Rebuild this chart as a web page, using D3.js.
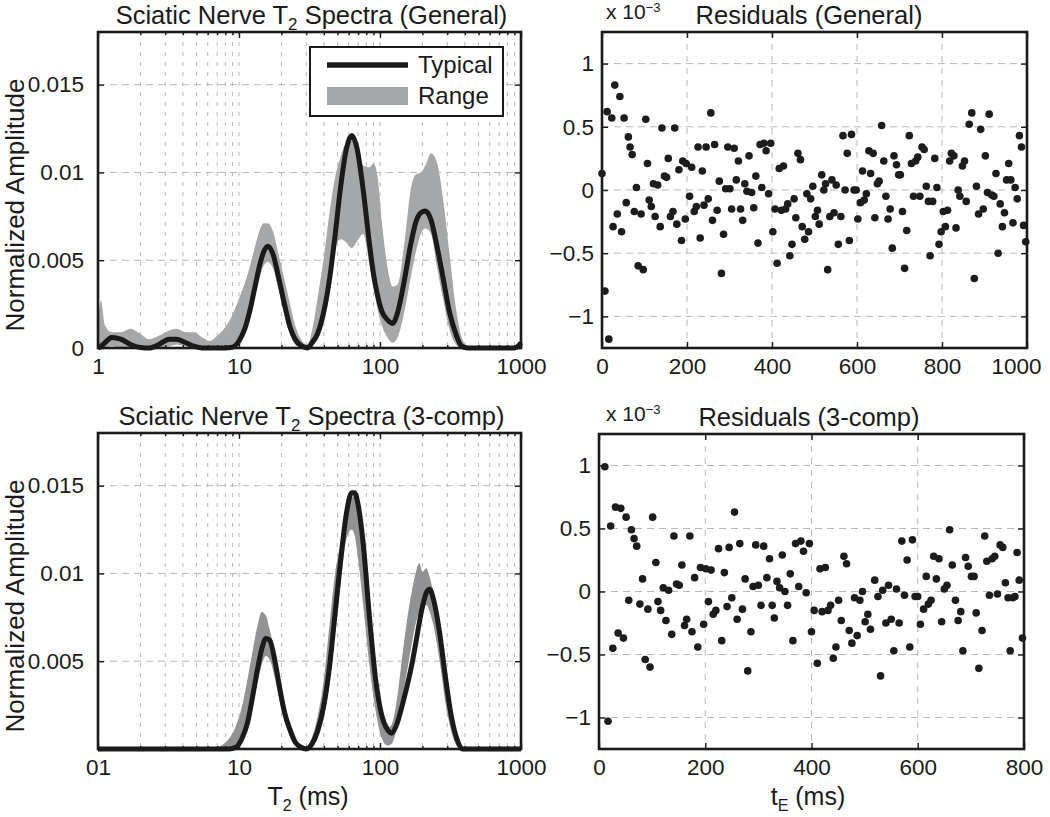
<!DOCTYPE html>
<html lang="en">
<head>
<meta charset="UTF-8">
<title>Sciatic Nerve T2 Spectra</title>
<script src="https://d3js.org/d3.v7.min.js"></script>
<style>
  body { margin: 0; background: #fff; }
  svg text { font-family: "Liberation Sans", Arial, Helvetica, sans-serif; fill: #1a1a1a; }
</style>
</head>
<body>
<svg id="fig" width="1050" height="817"></svg>
<script>
// ---- spectra, general fit (T2 in ms, normalized amplitude) ----
var t2Gen = [1, 1.05, 1.12, 1.25, 1.45, 1.7, 2.0, 2.3, 2.7, 3.2, 3.6, 4.2, 4.8, 5.5, 6.2, 7.0, 8.0, 9.0,
  10, 11, 12, 13, 14, 15, 16, 17.5, 19, 21, 23, 25, 28, 30.5, 33, 36, 40, 44, 48, 53, 58, 63, 69, 76, 84,
  90, 96, 103, 113, 123, 133, 150, 165, 180, 195, 210, 230, 255, 280, 310, 345, 380, 420, 900, 1000];
var typGen = [0, 0.0001, 0.0003, 0.0006, 0.0005, 0.0002, 0.00003, 0, 0.0002, 0.0005, 0.0005, 0.0003, 0.0001, 0, 0, 0, 0, 0.00005,
  0.0004, 0.0011, 0.0022, 0.0035, 0.0047, 0.0055, 0.0058, 0.0053, 0.0041, 0.0025, 0.0012, 0.0005, 0.0001, 0, 0.0003, 0.0008, 0.0021, 0.0040, 0.0064, 0.0094, 0.0114, 0.0121, 0.0113, 0.0090, 0.0060,
  0.0042, 0.0030, 0.0021, 0.0016, 0.0014, 0.0020, 0.0040, 0.0059, 0.0072, 0.0077, 0.0078, 0.0073, 0.0057, 0.0040, 0.0021, 0.0008, 0.0001, 0, 0, 0.0003];
var loGen = [0, 0, 0, 0.0001, 0, 0, 0, 0, 0, 0.0001, 0.0002, 0.0001, 0, 0, 0, 0, 0, 0,
  0.0003, 0.0009, 0.0019, 0.0030, 0.0040, 0.0047, 0.0049, 0.0045, 0.0034, 0.0019, 0.0008, 0.0002, 0, 0, 0.0001, 0.0005, 0.0015, 0.0032, 0.0058, 0.0062, 0.0060, 0.0057, 0.0061, 0.0065, 0.0048,
  0.0035, 0.0022, 0.0013, 0.0006, 0.0003, 0.0006, 0.0022, 0.0040, 0.0055, 0.0065, 0.0068, 0.0065, 0.0045, 0.0028, 0.0011, 0.0002, 0, 0, 0, 0.0001];
var hiGen = [0.0015, 0.0027, 0.0013, 0.0009, 0.0009, 0.0011, 0.0008, 0.0005, 0.0007, 0.0010, 0.0011, 0.0009, 0.0009, 0.0006, 0.0004, 0.0007, 0.0012, 0.0019,
  0.0028, 0.0037, 0.0047, 0.0058, 0.0067, 0.0071, 0.0071, 0.0066, 0.0054, 0.0039, 0.0025, 0.0013, 0.0004, 0.0002, 0.0010, 0.0028, 0.0052, 0.0078, 0.0097, 0.0110, 0.0117, 0.0118, 0.0114, 0.0104, 0.0103,
  0.0105, 0.0098, 0.0072, 0.0046, 0.0035, 0.0036, 0.0062, 0.0090, 0.0099, 0.0100, 0.0104, 0.0111, 0.0105, 0.0085, 0.0055, 0.0023, 0.0006, 0.0001, 0, 0.0004];

// ---- spectra, 3-component fit ----
var t2Three = [1, 6.5, 7.5, 8.5, 9.5, 10.5, 11.5, 12.5, 13.5, 14.5, 15.5, 16.5, 18, 19.5, 21, 23, 25, 27.5, 30,
  33, 36, 40, 44, 48, 53, 58, 63, 66, 70, 76, 84, 93, 103, 113, 121, 130, 145, 160, 170, 180, 190, 200, 213,
  225, 240, 265, 290, 320, 350, 385, 1000];
var typThree = [0, 0, 0, 0, 0.0001, 0.0006, 0.0015, 0.0030, 0.0045, 0.0057, 0.0063, 0.0062, 0.0050, 0.0034, 0.0021, 0.0011, 0.0004, 0.0001, 0,
  0.0003, 0.0010, 0.0025, 0.0048, 0.0077, 0.0110, 0.0135, 0.0146, 0.0146, 0.0139, 0.0117, 0.0076, 0.0040, 0.0019, 0.0011, 0.0009, 0.0013, 0.0026, 0.0040, 0.0050, 0.0061, 0.0072, 0.0081, 0.0089,
  0.0091, 0.0085, 0.0066, 0.0042, 0.0019, 0.0006, 0, 0];
var loThree = [0, 0, 0, 0, 0, 0.0004, 0.0012, 0.0025, 0.0038, 0.0048, 0.0053, 0.0051, 0.0040, 0.0027, 0.0016, 0.0007, 0.0002, 0, 0,
  0.0001, 0.0006, 0.0018, 0.0038, 0.0065, 0.0097, 0.0120, 0.0125, 0.0122, 0.0108, 0.0082, 0.0048, 0.0022, 0.0006, 0.0002, 0.0003, 0.0010, 0.0030, 0.0050, 0.0062, 0.0072, 0.0078, 0.0080, 0.0082,
  0.0078, 0.0070, 0.0050, 0.0027, 0.0010, 0.0002, 0, 0];
var hiThree = [0, 0, 0.0002, 0.0006, 0.0013, 0.0024, 0.0040, 0.0056, 0.0070, 0.0078, 0.0076, 0.0068, 0.0054, 0.0040, 0.0027, 0.0014, 0.0006, 0.0002, 0.0001,
  0.0007, 0.0018, 0.0040, 0.0072, 0.0100, 0.0118, 0.0132, 0.0143, 0.0144, 0.0136, 0.0112, 0.0072, 0.0038, 0.0016, 0.0012, 0.0014, 0.0025, 0.0055, 0.0080, 0.0092, 0.0101, 0.0106, 0.0101, 0.0103,
  0.0098, 0.0088, 0.0068, 0.0044, 0.0022, 0.0008, 0.0001, 0];

// ---- residuals (x 10^-3) vs echo time tE (ms) ----
var tEGen = [0,7,12,16,23,26,30,36,42,46, 52,57,62,66,71,76,81,85,92,97, 103,107,111,116,121,125,131,137,141,147,
  152,156,161,167,171,176,181,187,190,196, 198,206,211,217,222,226,231,236,240,245, 250,256,260,265,271,276,281,286,291,296,
  301,305,311,316,321,326,331,336,341,346, 352,357,362,367,372,376,381,386,392,397, 402,407,412,417,422,427,432,437,442,447,
  452,456,461,467,471,477,482,486,491,496, 502,507,511,517,522,526,531,536,541,546, 551,556,562,567,572,577,582,587,593,598,
  602,608,613,617,622,628,632,638,642,648, 652,658,663,668,673,678,683,687,693,698, 702,707,712,717,723,728,733,738,743,748,
  753,758,763,768,772,778,783,788,793,798, 803,808,813,818,822,828,833,838,842,848, 853,857,864,870,876,881,886,891,897,902,
  907,911,917,922,927,932,937,942,947,952, 957,962,967,972,977,982,987,992,997];
var resGen = [0.13,-0.80,0.62,-1.18,0.57,-0.29,0.83,-0.19,0.74,-0.33, 0.57,-0.10,0.42,0.34,0.28,-0.17,0.02,-0.60,-0.19,-0.63,
  0.56,0.21,-0.08,-0.13,0.05,-0.21,0.04,-0.29,0.49,0.11, 0.10,0.25,-0.21,-0.17,0.49,-0.27,0.16,-0.40,0.23,-0.23,
  0.21,-0.05,0.18,-0.17,-0.13,0.34,-0.38,0.15,-0.12,0.34, -0.07,0.61,-0.24,0.36,-0.16,0.07,-0.66,-0.35,0.01,0.34,
  0.01,-0.15,0.33,0.08,0.23,-0.15,-0.24,0.05,-0.01,0.27, -0.02,-0.14,0.11,-0.42,0.36,0.02,0.37,0.31,-0.03,0.37,
  -0.33,-0.15,-0.58,0.17,-0.16,0.19,-0.15,-0.11,-0.52,-0.43, -0.07,-0.22,0.29,0.24,-0.29,-0.39,-0.03,-0.33,-0.07,0.03,
  -0.21,-0.16,-0.27,0.12,0.00,0.05,-0.63,-0.21,0.08,-0.18, 0.04,-0.43,-0.21,0.43,0.00,0.29,-0.40,0.44,0.00,0.00,
  -0.23,-0.10,0.15,-0.08,-0.03,0.31,0.13,0.29,-0.22,0.05, 0.07,0.51,0.23,-0.05,-0.23,-0.15,-0.46,0.27,0.20,0.12,
  0.12,-0.17,-0.62,-0.32,0.43,0.21,-0.05,0.23,0.26,-0.05, 0.34,0.32,0.03,-0.09,-0.52,-0.09,0.25,0.02,-0.43,-0.33,
  -0.17,-0.29,-0.16,0.23,0.29,0.27,-0.30,0.00,-0.05,0.19, 0.23,-0.09,0.52,0.61,-0.70,0.03,-0.19,0.48,-0.15,0.27,
  -0.02,0.60,-0.04,-0.05,0.13,-0.50,-0.11,-0.29,-0.18,0.08, 0.21,0.08,-0.26,0.02,-0.07,0.43,0.34,-0.28,-0.41];

var tEThree = [11,17,22,26,31,36,41,46,51,56, 61,66,71,77,82,87,92,96,101,107, 111,116,121,126,131,137,141,146,151,156,
  161,165,171,175,180,186,191,197,201,206, 211,215,220,225,231,236,241,245,250,255, 260,265,270,275,280,286,290,295,300,305,
  310,316,321,326,330,335,340,345,350,355, 360,365,370,376,380,385,390,396,400,405, 411,416,420,426,431,436,441,446,451,456,
  461,466,471,476,481,486,491,496,501,506, 511,519,525,530,534,540,545,550,555,560, 565,570,575,580,585,590,595,600,605,611,
  616,620,625,630,635,640,645,650,655,660, 665,671,676,681,685,690,695,701,706,710, 715,721,726,730,735,740,745,750,755,760,
  765,770,774,779,783,787,791,797];
var resThree = [0.99,-1.03,0.52,-0.45,0.67,-0.33,0.66,-0.37,0.59,-0.07, 0.49,0.42,0.36,-0.10,0.10,-0.54,-0.14,-0.60,0.59,0.23,
  -0.08,-0.15,0.03,-0.23,0.01,-0.34,0.44,0.06,0.05,0.21, -0.27,-0.22,0.44,-0.32,0.11,-0.44,0.19,-0.26,0.18,-0.08,
  0.17,-0.18,-0.15,0.34,-0.39,0.15,-0.12,0.35,-0.05,0.63, -0.22,0.38,-0.14,0.10,-0.63,-0.32,0.04,0.37,0.05,-0.11,
  0.36,0.11,0.26,-0.11,-0.21,0.08,0.03,0.29,0.00,-0.11, 0.14,-0.39,0.38,0.04,0.40,0.32,-0.01,0.38,-0.32,-0.15,
  -0.57,0.18,-0.16,0.19,-0.15,-0.11,-0.53,-0.44,-0.07,-0.23, 0.28,0.22,-0.31,-0.41,-0.05,-0.35,-0.07,0.00,-0.24,-0.18,
  -0.30,0.09,-0.04,-0.67,0.01,-0.25,0.05,-0.22,-0.47,0.02, -0.25,0.40,-0.03,0.25,-0.44,0.41,-0.04,-0.04,-0.26,-0.14,
  0.12,-0.10,-0.07,0.28,0.10,0.26,-0.24,0.02,0.05,0.49, 0.21,-0.07,-0.23,-0.16,-0.47,0.27,0.20,0.12,0.12,-0.17,
  -0.61,-0.31,0.44,0.24,-0.03,0.26,0.28,-0.02,0.37,0.35, 0.07,-0.05,-0.47,-0.05,-0.04,0.31,0.09,-0.37];

// tick labels
var specXLabelsTop = ["1", "10", "100", "1000"];
var specXLabelsBot = ["01", "10", "100", "1000"];
var specYTicksTop = [0, 0.005, 0.01, 0.015];
var specYTicksBot = [0.005, 0.01, 0.015];
var resYTicks = [-1, -0.5, 0, 0.5, 1];
var resXTicksGen = [0, 200, 400, 600, 800, 1000];
var resXTicksThree = [0, 200, 400, 600, 800];

const svg = d3.select("#fig");
const ink = "#1a1a1a";
const gridColor = "#b8b8b8";

function styleAxis(g) {
    g.attr("font-size", 22.5).attr("font-family", null).attr("color", ink);
    g.select(".domain").remove();
    g.selectAll(".tick line").attr("stroke-width", 1.4);
}

function frame(g, p) {
    g.append("rect")
        .attr("x", p.x0).attr("y", p.y0)
        .attr("width", p.x1 - p.x0).attr("height", p.y1 - p.y0)
        .attr("fill", "none").attr("stroke", ink).attr("stroke-width", 2.6);
}

function drawSpectra(p, t2, typ, lo, hi, bandColor, title, yTicks, xLabels) {
    const x = d3.scaleLog().domain([1, 1000]).range([p.x0, p.x1]);
    const y = d3.scaleLinear().domain([0, 0.018]).range([p.y1, p.y0]);
    const g = svg.append("g");

    const majors = [1, 10, 100, 1000];
    const minors = [];
    [1, 10, 100].forEach(d => { for (let k = 2; k <= 9; k++) minors.push(d * k); });

    // grid
    g.append("g").selectAll("line").data(minors.concat([10, 100])).join("line")
        .attr("x1", d => x(d)).attr("x2", d => x(d))
        .attr("y1", p.y0).attr("y2", p.y1)
        .attr("stroke", gridColor).attr("stroke-width", 1).attr("stroke-dasharray", "4,6");
    g.append("g").selectAll("line").data(yTicks.filter(v => v > 0)).join("line")
        .attr("x1", p.x0).attr("x2", p.x1)
        .attr("y1", d => y(d)).attr("y2", d => y(d))
        .attr("stroke", gridColor).attr("stroke-width", 1).attr("stroke-dasharray", "7,5");

    const pts = d3.zip(t2, typ, lo, hi);
    g.append("path").datum(pts)
        .attr("d", d3.area().x(d => x(d[0])).y0(d => y(d[2])).y1(d => y(d[3])).curve(d3.curveMonotoneX))
        .attr("fill", bandColor);
    g.append("path").datum(pts)
        .attr("d", d3.line().x(d => x(d[0])).y(d => y(d[1])).curve(d3.curveMonotoneX))
        .attr("fill", "none").attr("stroke", ink).attr("stroke-width", 5)
        .attr("stroke-linejoin", "round");

    frame(g, p);

    // ticks (inward, all sides)
    g.append("g").attr("transform", `translate(0,${p.y1})`)
        .call(d3.axisBottom(x).tickValues(majors).tickFormat((d, i) => xLabels[i]).tickSize(-6).tickPadding(10))
        .call(styleAxis);
    g.append("g").attr("transform", `translate(0,${p.y1})`)
        .call(d3.axisBottom(x).tickValues(minors).tickFormat("").tickSize(-3)).call(styleAxis);
    g.append("g").attr("transform", `translate(0,${p.y0})`)
        .call(d3.axisTop(x).tickValues(majors).tickFormat("").tickSize(-6)).call(styleAxis);
    g.append("g").attr("transform", `translate(0,${p.y0})`)
        .call(d3.axisTop(x).tickValues(minors).tickFormat("").tickSize(-3)).call(styleAxis);
    g.append("g").attr("transform", `translate(${p.x0},0)`)
        .call(d3.axisLeft(y).tickValues(yTicks).tickFormat(d => String(d)).tickSize(-6).tickPadding(14))
        .call(styleAxis);
    g.append("g").attr("transform", `translate(${p.x1},0)`)
        .call(d3.axisRight(y).tickValues(yTicks).tickFormat("").tickSize(-6)).call(styleAxis);

    // title
    const t = g.append("text").attr("x", (p.x0 + p.x1) / 2 + 2).attr("y", p.y0 - 8)
        .attr("text-anchor", "middle").attr("font-size", 25.5);
    t.append("tspan").text(title[0]);
    t.append("tspan").attr("font-size", 17).attr("dy", 6).text("2");
    t.append("tspan").attr("dy", -6).text(title[1]);

    // y label
    g.append("text").attr("transform", `translate(${24},${(p.y0 + p.y1) / 2 + 15}) rotate(-90)`)
        .attr("text-anchor", "middle").attr("font-size", 26).text("Normalized Amplitude");
    return g;
}

function drawResid(p, tmax, xTicks, tE, res, title) {
    const x = d3.scaleLinear().domain([0, tmax]).range([p.x0, p.x1]);
    const y = d3.scaleLinear().domain([-1.25, 1.25]).range([p.y1, p.y0]);
    const g = svg.append("g");

    g.append("g").selectAll("line").data(xTicks.filter(v => v > 0 && v < tmax)).join("line")
        .attr("x1", d => x(d)).attr("x2", d => x(d)).attr("y1", p.y0).attr("y2", p.y1)
        .attr("stroke", gridColor).attr("stroke-width", 1).attr("stroke-dasharray", "6,6");
    g.append("g").selectAll("line").data(resYTicks).join("line")
        .attr("x1", p.x0).attr("x2", p.x1).attr("y1", d => y(d)).attr("y2", d => y(d))
        .attr("stroke", gridColor).attr("stroke-width", 1).attr("stroke-dasharray", "7,5");

    frame(g, p);

    const fmt = d => d < 0 ? "\u2212" + Math.abs(d) : String(d);
    const bx = g.append("g").attr("transform", `translate(0,${p.y1})`)
        .call(d3.axisBottom(x).tickValues(xTicks).tickFormat(d3.format("d")).tickSize(-6).tickPadding(10))
        .call(styleAxis);
    // last label kept inside the page, as in the original
    bx.selectAll(".tick text").filter(d => d === 1000).attr("dx", -11);
    g.append("g").attr("transform", `translate(0,${p.y0})`)
        .call(d3.axisTop(x).tickValues(xTicks).tickFormat("").tickSize(-6)).call(styleAxis);
    g.append("g").attr("transform", `translate(${p.x0},0)`)
        .call(d3.axisLeft(y).tickValues(resYTicks).tickFormat(fmt).tickSize(-6).tickPadding(8))
        .call(styleAxis);
    g.append("g").attr("transform", `translate(${p.x1},0)`)
        .call(d3.axisRight(y).tickValues(resYTicks).tickFormat("").tickSize(-6)).call(styleAxis);

    g.append("g").selectAll("circle").data(d3.zip(tE, res)).join("circle")
        .attr("cx", d => x(d[0])).attr("cy", d => y(d[1])).attr("r", 3.8)
        .attr("fill", "#1c1c1c");

    g.append("text").attr("x", 809).attr("y", p.y0 - 8)
        .attr("text-anchor", "middle").attr("font-size", 25.5).text(title);

    const e = g.append("text").attr("x", 606).attr("y", p.y0 - 13).attr("font-size", 21);
    e.append("tspan").text("x 10");
    e.append("tspan").attr("font-size", 13).attr("dy", -7).text("\u22123");
    return g;
}

const pTL = { x0: 98, x1: 521, y0: 32, y1: 348 };
const pBL = { x0: 98, x1: 521, y0: 433, y1: 749 };
const pTR = { x0: 602, x1: 1027, y0: 32, y1: 348 };
const pBR = { x0: 599, x1: 1024, y0: 434, y1: 749 };

const bandTop = "#a6a7a9";
const bandBot = "#919294";

const gTL = drawSpectra(pTL, t2Gen, typGen, loGen, hiGen, bandTop,
    ["Sciatic Nerve T", " Spectra (General)"], specYTicksTop, specXLabelsTop);
drawSpectra(pBL, t2Three, typThree, loThree, hiThree, bandBot,
    ["Sciatic Nerve T", " Spectra (3-comp)"], specYTicksBot, specXLabelsBot);
drawResid(pTR, 1000, resXTicksGen, tEGen, resGen, "Residuals (General)");
drawResid(pBR, 800, resXTicksThree, tEThree, resThree, "Residuals (3-comp)");

// legend (top-left spectra)
const lg = gTL.append("g");
lg.append("rect").attr("x", 310).attr("y", 47).attr("width", 193).attr("height", 69)
    .attr("fill", "#fff").attr("stroke", ink).attr("stroke-width", 2);
lg.append("line").attr("x1", 327).attr("x2", 408).attr("y1", 65).attr("y2", 65)
    .attr("stroke", ink).attr("stroke-width", 5.5);
lg.append("rect").attr("x", 327).attr("y", 87).attr("width", 81).attr("height", 18).attr("fill", bandTop);
lg.append("text").attr("x", 418).attr("y", 73).attr("font-size", 24).text("Typical");
lg.append("text").attr("x", 418).attr("y", 104).attr("font-size", 24).text("Range");

// x labels
const xl1 = svg.append("text").attr("x", 308).attr("y", 805).attr("text-anchor", "middle").attr("font-size", 25);
xl1.append("tspan").text("T");
xl1.append("tspan").attr("font-size", 16).attr("dy", 6).text("2");
xl1.append("tspan").attr("dy", -6).text(" (ms)");
const xl2 = svg.append("text").attr("x", 808).attr("y", 805).attr("text-anchor", "middle").attr("font-size", 25);
xl2.append("tspan").text("t");
xl2.append("tspan").attr("font-size", 16).attr("dy", 6).text("E");
xl2.append("tspan").attr("dy", -6).text(" (ms)");
</script>
</body>
</html>
